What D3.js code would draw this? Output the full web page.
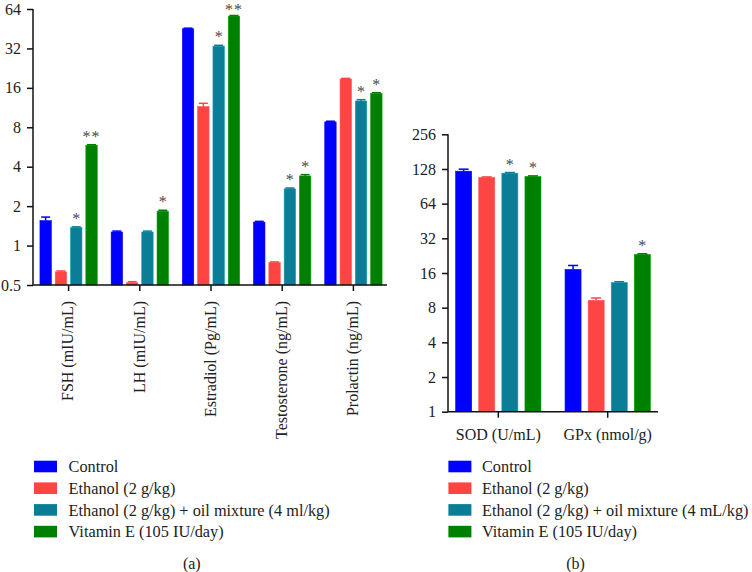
<!DOCTYPE html>
<html><head><meta charset="utf-8">
<script src="https://cdn.jsdelivr.net/npm/d3@7"></script>
<style>
body{margin:0;background:#fff;}
svg{display:block;}
svg text{font-family:"Liberation Serif","DejaVu Serif",serif !important;}
</style></head>
<body><svg id="c" width="752" height="572"></svg>
<script>
// ---------- data ----------
const seriesNames = ["Control","Ethanol","EthanolOil","VitaminE"];
const seriesColors = ["#0000FF","#FF4444","#0B7D96","#008000"];

const leftCategories = ["FSH (mIU/mL)","LH (mIU/mL)","Estradiol (Pg/mL)","Testosterone (ng/mL)","Prolactin (ng/mL)"];
const leftControl    = [1.55, 1.27, 45.2, 1.51, 8.8];
const leftEthanol    = [0.63, 0.52, 11.5, 0.74, 18.7];
const leftEthanolOil = [1.37, 1.27, 33.3, 2.71, 12.7];
const leftVitaminE   = [5.84, 1.83, 56.5, 3.40, 14.5];
const leftErrControl    = [0.10, 0.02, 0.5, 0.02, 0.1];
const leftErrEthanol    = [0.01, 0.01, 0.7, 0.01, 0.2];
const leftErrEthanolOil = [0.02, 0.02, 0.5, 0.04, 0.3];
const leftErrVitaminE   = [0.05, 0.03, 0.6, 0.08, 0.2];
const leftStarsEthanolOil = ["*","","*","*","*"];
const leftStarsVitaminE   = ["**","*","**","*","*"];
const leftTicks = [0.5,1,2,4,8,16,32,64];

const rightCategories = ["SOD (U/mL)","GPx (nmol/g)"];
const rightControl    = [122.5, 17.2];
const rightEthanol    = [108, 9.26];
const rightEthanolOil = [117.7, 13.2];
const rightVitaminE   = [110, 23.2];
const rightErrControl    = [5, 1.4];
const rightErrEthanol    = [1.2, 0.45];
const rightErrEthanolOil = [1.5, 0.25];
const rightErrVitaminE   = [1.5, 0.3];
const rightStarsEthanolOil = ["*",""];
const rightStarsVitaminE   = ["*","*"];
const rightTicks = [1,2,4,8,16,32,64,128,256];

const legendLeft  = ["Control","Ethanol (2 g/kg)","Ethanol (2 g/kg) + oil mixture (4 ml/kg)","Vitamin E (105 IU/day)"];
const legendRight = ["Control","Ethanol (2 g/kg)","Ethanol (2 g/kg) + oil mixture (4 mL/kg)","Vitamin E (105 IU/day)"];
const panelLabels = ["(a)","(b)"];

// ---------- drawing ----------
const svg = d3.select("#c");
const FS = 16;

function panel(cfg){
  const g = svg.append("g");
  const y = d3.scaleLog().base(2).domain(cfg.domain).range([cfg.y0, cfg.y1]);
  const x = d3.scaleBand().domain(cfg.categories).range(cfg.xRange).paddingInner(0).paddingOuter(0);
  const inner = d3.scaleBand().domain(seriesNames).range([-cfg.groupW/2, cfg.groupW/2]).paddingInner(cfg.innerPad);

  const rows = [];
  cfg.categories.forEach((c,i)=>{
    seriesNames.forEach((s,j)=>{
      rows.push({cat:c, s, j, v:cfg.values[j][i], e:cfg.errors[j][i], star:cfg.stars[j] ? cfg.stars[j][i] : ""});
    });
  });

  const bx = d => x(d.cat) + x.bandwidth()/2 + inner(d.s);
  g.selectAll("rect.bar").data(rows).join("rect")
    .attr("x", bx).attr("width", inner.bandwidth())
    .attr("y", d=>y(d.v)).attr("height", d=>cfg.y0 - y(d.v))
    .attr("fill", d=>seriesColors[d.j])
    .attr("stroke", d=>d3.color(seriesColors[d.j]).brighter(0.6)).attr("stroke-width",0.6);
  const cw = cfg.capW;
  const eb = g.selectAll("g.err").data(rows).join("g")
    .attr("stroke", d=>seriesColors[d.j]).attr("stroke-width",1.5);
  eb.append("line")
    .attr("x1", d=>bx(d)+inner.bandwidth()/2).attr("x2", d=>bx(d)+inner.bandwidth()/2)
    .attr("y1", d=>y(d.v)).attr("y2", d=>y(d.v+d.e));
  eb.append("line")
    .attr("x1", d=>bx(d)+inner.bandwidth()/2-cw/2).attr("x2", d=>bx(d)+inner.bandwidth()/2+cw/2)
    .attr("y1", d=>y(d.v+d.e)).attr("y2", d=>y(d.v+d.e));
  g.selectAll("text.star").data(rows.filter(d=>d.star)).join("text")
    .attr("x", d=>bx(d)+inner.bandwidth()/2)
    .attr("y", d=>Math.max(y(d.v+d.e) - 3, 14.5))
    .attr("text-anchor","middle").attr("font-size",FS).attr("fill","#4a4a4a")
    .attr("letter-spacing", d=>d.star.length>1?"1px":null)
    .text(d=>d.star);

  const ya = d3.axisLeft(y).tickValues(cfg.ticks).tickFormat(d=>String(d)).tickSize(6).tickPadding(6);
  const yg = g.append("g").attr("transform",`translate(${cfg.xAxisStart},0)`).call(ya);
  yg.attr("font-family",null);
  yg.select(".domain").remove();
  yg.append("line").attr("x1",0).attr("x2",0).attr("y1",cfg.y1).attr("y2",cfg.y0).attr("stroke","#111").attr("stroke-width",1.5);
  yg.selectAll(".tick line").attr("stroke","#111").attr("stroke-width",1.5);
  yg.selectAll(".tick text").attr("font-size",FS).attr("fill","#222");

  const xa = d3.axisBottom(x).tickSize(6).tickSizeOuter(0);
  const xg = g.append("g").attr("transform",`translate(0,${cfg.y0})`).call(xa);
  xg.attr("font-family",null);
  xg.select(".domain").remove();
  xg.append("line").attr("x1",cfg.xAxisStart).attr("x2",cfg.xAxisEnd).attr("y1",0).attr("y2",0).attr("stroke","#111").attr("stroke-width",1.5);
  xg.selectAll(".tick line").attr("stroke","#111").attr("stroke-width",1.5);
  const tt = xg.selectAll(".tick text").attr("font-size",FS).attr("fill","#222");
  if(cfg.rotate){
    tt.attr("transform","rotate(-90)").attr("text-anchor","end").attr("x",-16).attr("y",0).attr("dy","0.3em");
  } else {
    tt.attr("y",14).attr("dy","0.9em");
  }
}

panel({
  categories:leftCategories,
  values:[leftControl,leftEthanol,leftEthanolOil,leftVitaminE],
  errors:[leftErrControl,leftErrEthanol,leftErrEthanolOil,leftErrVitaminE],
  stars:[null,null,leftStarsEthanolOil,leftStarsVitaminE],
  ticks:leftTicks, domain:[0.5,64], y0:285, y1:9,
  xRange:[33,389], xAxisStart:33, xAxisEnd:387,
  groupW:57.3, innerPad:0.255, capW:9, rotate:true
});

panel({
  categories:rightCategories,
  values:[rightControl,rightEthanol,rightEthanolOil,rightVitaminE],
  errors:[rightErrControl,rightErrEthanol,rightErrEthanolOil,rightErrVitaminE],
  stars:[null,null,rightStarsEthanolOil,rightStarsVitaminE],
  ticks:rightTicks, domain:[1,256], y0:411.7, y1:134.3,
  xRange:[443.6,662.4], xAxisStart:448, xAxisEnd:658,
  groupW:85.3, innerPad:0.307, capW:10, rotate:false
});

function legend(labels, x0, xt){
  const lg = svg.append("g");
  labels.forEach((t,i)=>{
    const yb = 472.3 + i*21.7;
    lg.append("rect").attr("x",x0).attr("y",yb-11.6).attr("width",23).attr("height",11.6).attr("fill",seriesColors[i]);
    lg.append("text").attr("x",xt).attr("y",yb).attr("font-size",16.3).attr("fill","#222").text(t);
  });
}
legend(legendLeft, 34, 68.6);
legend(legendRight, 448.4, 482);

svg.append("text").attr("x",191.8).attr("y",569).attr("text-anchor","middle").attr("font-size",FS).attr("fill","#222").text(panelLabels[0]);
svg.append("text").attr("x",575.5).attr("y",569).attr("text-anchor","middle").attr("font-size",FS).attr("fill","#222").text(panelLabels[1]);
</script></body></html>
